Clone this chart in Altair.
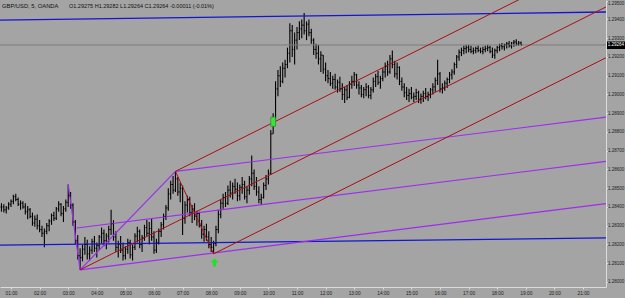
import altair as alt
import pandas as pd

# ---------------- data (5-minute bars, prices in pips above 1.28000) ----------------
FIRST_BAR_MIN = 40          # first bar 00:40
BAR_MIN = 5
BASE_PRICE = 1.28
FIRST_OPEN_PIPS = 40.0

HIGH_PIPS = [
    42, 41.5, 40.5, 42.5,
    44, 46.5, 47, 45, 43.5, 43, 42, 40.5, 39.5, 37, 35.5, 36,
    33, 30, 28.5, 31.5, 33.5, 36.5, 37.5, 40, 43, 42, 40.5, 44,
    52, 48, 42, 33, 25, 18, 20, 24, 22.5, 19, 23, 24.5,
    21, 25, 29, 28, 26, 30, 38.5, 33, 27, 22, 24.5, 21,
    19, 23, 22.5, 20, 26, 29.5, 28, 25, 30.5, 33, 32, 34,
    27, 23, 28.5, 32, 36.5, 41, 50, 54, 56.5, 59, 56, 53,
    51.5, 43, 46, 45.5, 41, 42, 38, 37.5, 33, 30, 31, 27,
    24, 22, 30, 38.5, 44, 47, 48, 51.5, 54, 53, 55, 53,
    52, 56, 54, 51, 56.5, 67.5, 60, 56, 51, 47, 53, 57,
    60, 81, 90, 107, 113, 115, 117, 118.5, 125, 138, 137, 133,
    136, 139, 140, 143.5, 139, 140, 135, 130, 127, 126.5, 123, 121,
    117, 113, 112, 110, 111, 108, 109.5, 106, 104, 105, 107, 110,
    112, 111, 107, 105, 104, 106, 105, 104, 109, 111, 112.5, 110,
    114, 117, 118, 121, 123.5, 118, 117, 115, 109, 106, 104, 103,
    104, 101, 103, 102, 100.5, 102, 103.5, 101.5, 103.5, 106, 109, 118.5,
    112, 106, 107.5, 109, 112, 113.5, 117, 121, 124, 125, 126, 126.5,
    126.5, 126, 125, 125.5, 126, 125, 125.5, 126, 126.5, 126, 125, 124.5,
    126, 127, 127.5, 127, 128, 128.5, 128, 129, 129.5, 128.5, 128.2,
]
LOW_PIPS = [
    37.5, 37, 36.5, 38.5,
    40, 41.5, 43, 40.5, 38.5, 39, 36, 33.5, 34, 30, 29.5, 28,
    26.5, 24, 18.5, 25.5, 27, 30.5, 32.5, 33, 37.5, 35, 32, 37.5,
    40, 39, 30, 20, 12, 6.5, 11, 14.5, 12, 11.5, 15, 16,
    13, 17, 20.5, 19, 17.5, 21, 25, 22, 16, 13, 15.5, 11.5,
    12, 15, 12.5, 11.5, 17, 21, 18, 16, 22, 24.5, 20, 22,
    15, 15.5, 20, 24, 28, 33, 38, 44, 47, 48, 46, 42.5,
    25, 31, 37, 35, 31.5, 33, 30, 29, 23, 21.5, 22, 18,
    16, 15, 19, 26, 34, 39, 40, 41, 45, 44, 47, 43,
    43.5, 47, 44, 42, 46.5, 51, 49, 46, 42, 41, 44.5, 49,
    52, 57, 79, 87, 99, 104, 106, 109, 114, 117, 120, 116,
    124, 129, 130, 132, 129, 131, 127, 121, 119, 116, 112, 111,
    107, 106, 104.5, 103, 102.5, 101, 101.5, 97, 95.5, 97, 98, 103,
    104.5, 103, 100, 98.5, 98, 99, 98, 97.5, 101, 104, 105, 103,
    107, 109, 110, 111, 114, 109, 108, 105, 102, 98.5, 97, 96,
    97.5, 96, 97, 95.5, 95, 96, 97.5, 96.5, 98, 100, 101.5, 105,
    101, 100.5, 102, 103.5, 106, 108, 110.5, 114, 118, 120.5, 121.5, 122,
    122.5, 122, 121.5, 122, 122.5, 122, 121.5, 122.5, 123, 122, 119.5, 119,
    122, 123, 124, 123.5, 124.5, 125, 124.5, 125.5, 126, 126, 126.4,
]
CLOSE_PIPS = [
    40, 38.5, 39.5, 41.5,
    43, 45.5, 44, 41.5, 42, 40, 37.5, 38.5, 35, 31.5, 33.5, 30,
    28, 26, 27, 30, 32.5, 35.5, 34, 39, 41.5, 36.5, 39, 42.5,
    46, 41, 32, 22, 14, 13, 17.5, 20, 15, 17, 21.5, 18,
    19.5, 24, 26, 22, 24.5, 28, 31, 24, 18.5, 20, 17, 14,
    17.5, 21, 14.5, 18.5, 24.5, 27, 20, 23.5, 29, 26, 28.5, 24,
    17, 21, 27, 30.5, 35, 39.5, 47, 52, 49, 55, 48, 50,
    34, 41, 44, 37, 39, 35, 36.5, 31, 25.5, 28, 24, 20,
    18.5, 20.5, 28, 36, 42, 45, 42, 49, 47.5, 51, 49.5, 46,
    50.5, 52, 45.5, 49, 55, 58, 51, 48, 44, 45, 51.5, 55,
    58, 79, 87, 103, 110, 107, 114, 116, 122, 134, 124, 129,
    133, 135, 137, 134, 137.5, 133, 129, 124, 122, 119, 121, 113.5,
    110, 108.5, 106, 108, 104, 106.5, 103, 100, 102.5, 98.5, 105.5, 107,
    110.5, 105, 103.5, 100, 102.5, 104, 99.5, 102.5, 107, 109.5, 106.5, 108.5,
    112, 115, 112, 119, 116, 111, 114.5, 107, 104, 101, 99.5, 100.5,
    98.5, 99, 101, 97.5, 99, 100.5, 99, 100, 102.5, 104, 107.5, 111,
    103, 103.5, 106, 108, 110.5, 112, 116, 120, 122.5, 123.5, 124.5, 125,
    124, 123, 123.5, 124.5, 123.5, 123, 124, 124.5, 125, 123, 121, 123.5,
    125, 126, 125.5, 126.5, 127, 126, 127.5, 128, 127, 127.5, 126.4,
]

HOUR_TICKS = list(range(1, 22))                         # 01:00 .. 21:00
PRICE_TICKS = [round(1.280 + 0.001 * k, 3) for k in range(16)]
T_DOMAIN = [36.92, 1308.25]                             # minutes after midnight
P_DOMAIN = [1.279733, 1.29504]
LAST_PRICE = 1.29264

# trend lines: (minute1, price1, minute2, price2)
BLUE_LINES = [(36.92, 1.29397, 1308.25, 1.29440), (36.92, 1.28197, 1308.25, 1.28235)]
PURPLE_LINES = [(180, 1.28520, 205, 1.28065), (205, 1.28065, 405, 1.28590),
                (205, 1.28065, 1308.25, 1.28418), (198, 1.28288, 1308.25, 1.28643),
                (405, 1.28590, 1308.25, 1.28879)]
RED_LINES = [(405, 1.28590, 485, 1.28150), (205, 1.28065, 1308.25, 1.29467),
             (405, 1.28590, 1308.25, 1.29738), (485, 1.28150, 1308.25, 1.29196)]
ARROW_POINT = (487, 1.28104)
HIGHLIGHT_BOX = (605, 615, 1.28830, 1.28880)

HEADER_LEFT = "GBP/USD, 5, OANDA"
HEADER_RIGHT = "O1.29275  H1.29282  L1.29264  C1.29264  -0.00011 (-0.01%)"

# ---------------- build tables ----------------
n = len(CLOSE_PIPS)
opens = [FIRST_OPEN_PIPS] + CLOSE_PIPS[:-1]
bars = pd.DataFrame({
    "t": [FIRST_BAR_MIN + BAR_MIN * i for i in range(n)],
    "high": [BASE_PRICE + v / 10000 for v in HIGH_PIPS],
    "low": [BASE_PRICE + v / 10000 for v in LOW_PIPS],
    "open": [BASE_PRICE + v / 10000 for v in opens],
    "close": [BASE_PRICE + v / 10000 for v in CLOSE_PIPS],
})
bars["tl"] = bars["t"] - 2
bars["tr"] = bars["t"] + 2


def seg_df(lines):
    return pd.DataFrame(lines, columns=["t1", "p1", "t2", "p2"])


FONT = "Liberation Sans, Arial, sans-serif"
xs = alt.Scale(domain=T_DOMAIN, nice=False, zero=False)
ys = alt.Scale(domain=P_DOMAIN, nice=False, zero=False)

X_AXIS = alt.Axis(
    values=[60 * h for h in HOUR_TICKS],
    labelExpr="(datum.value < 600 ? '0' : '') + floor(datum.value / 60) + ':00'",
    title=None, grid=False, domainColor="#dcdcdc", tickColor="#dcdcdc",
    tickSize=2, labelFontSize=4.8, labelColor="#1e1e1e", labelPadding=1.5,
    labelFont=FONT, labelOverlap=False, labelFlush=False,
)
Y_AXIS = alt.Axis(
    orient="right", values=PRICE_TICKS, format=".5f", title=None, grid=False,
    domainColor="#dcdcdc", tickColor="#dcdcdc", tickSize=1.5, labelFontSize=4.5,
    labelColor="#1e1e1e", labelPadding=0, labelFont=FONT, labelOverlap=False,
    labelFlush=False,
    labelBaseline={"condition": {"test": "datum.value > 1.2945", "value": "top"},
                   "value": "middle"},
)


def X(field):
    return alt.X(field, type="quantitative", scale=xs, axis=X_AXIS)


def Y(field):
    return alt.Y(field, type="quantitative", scale=ys, axis=Y_AXIS)


base_bars = alt.Chart(bars)
hl = base_bars.mark_rule(color="#000000", strokeWidth=1.1).encode(
    x=X("t"), y=Y("low"), y2="high")
op = base_bars.mark_rule(color="#000000", strokeWidth=1).encode(
    x=X("tl"), x2="t", y=Y("open"))
cl = base_bars.mark_rule(color="#000000", strokeWidth=1).encode(
    x=X("t"), x2="tr", y=Y("close"))


def lines_layer(lines, colour, width):
    return alt.Chart(seg_df(lines)).mark_rule(color=colour, strokeWidth=width, clip=True).encode(
        x=X("t1"), x2="t2", y=Y("p1"), y2="p2")


price_line = alt.Chart(pd.DataFrame({"p": [LAST_PRICE]})).mark_rule(
    color="#7c7c7c", strokeWidth=1).encode(y=Y("p"))

blue = lines_layer(BLUE_LINES, "#1414d2", 1.3)
purple = lines_layer(PURPLE_LINES, "#9d2cf0", 1.2)
red = lines_layer(RED_LINES, "#a81010", 1.0)

arrow = alt.Chart(pd.DataFrame({"t": [ARROW_POINT[0]], "p": [ARROW_POINT[1]]})).mark_point(
    shape="M0,-1L1,0L0.4,0L0.4,1L-0.4,1L-0.4,0L-1,0Z", filled=True, size=64,
    color="#22e022", opacity=1).encode(x=X("t"), y=Y("p"))

hbox = alt.Chart(pd.DataFrame({"t1": [HIGHLIGHT_BOX[0]], "t2": [HIGHLIGHT_BOX[1]],
                               "p1": [HIGHLIGHT_BOX[2]], "p2": [HIGHLIGHT_BOX[3]]})).mark_rect(
    fill="#3ee03e", stroke="#148c14", strokeWidth=0.6).encode(
    x=X("t1"), x2="t2", y=Y("p1"), y2="p2")

head1 = alt.Chart(pd.DataFrame({"txt": [HEADER_LEFT]})).mark_text(
    align="left", baseline="middle", fontSize=5.8, font=FONT, color="#111111").encode(
    text="txt:N", x=alt.value(2), y=alt.value(5.5))
head2 = alt.Chart(pd.DataFrame({"txt": [HEADER_RIGHT]})).mark_text(
    align="left", baseline="middle", fontSize=5.5, font=FONT, color="#111111").encode(
    text="txt:N", x=alt.value(69), y=alt.value(5.5))

tag_box = alt.Chart(pd.DataFrame({"p": [LAST_PRICE]})).mark_rect(color="#000000").encode(
    x=alt.value(607), x2=alt.value(625), y=alt.value(41.5), y2=alt.value(49))
tag_txt = alt.Chart(pd.DataFrame({"txt": [f"{LAST_PRICE:.5f}"]})).mark_text(
    align="center", baseline="middle", fontSize=4.5, font=FONT, color="#ffffff").encode(
    text="txt:N", x=alt.value(615.8), y=alt.value(45.3))

chart = alt.layer(
    hl, price_line, blue, purple, red, op, cl, hbox, arrow, head1, head2, tag_box, tag_txt
).properties(
    width=606, height=287,
    padding={"left": 0, "top": 0, "right": 19, "bottom": 11},
    autosize=alt.AutoSizeParams(type="none"),
    background="#a4a4a4",
).configure_view(stroke=None)

chart.save("out.html", embed_options={"renderer": "svg", "actions": False})
